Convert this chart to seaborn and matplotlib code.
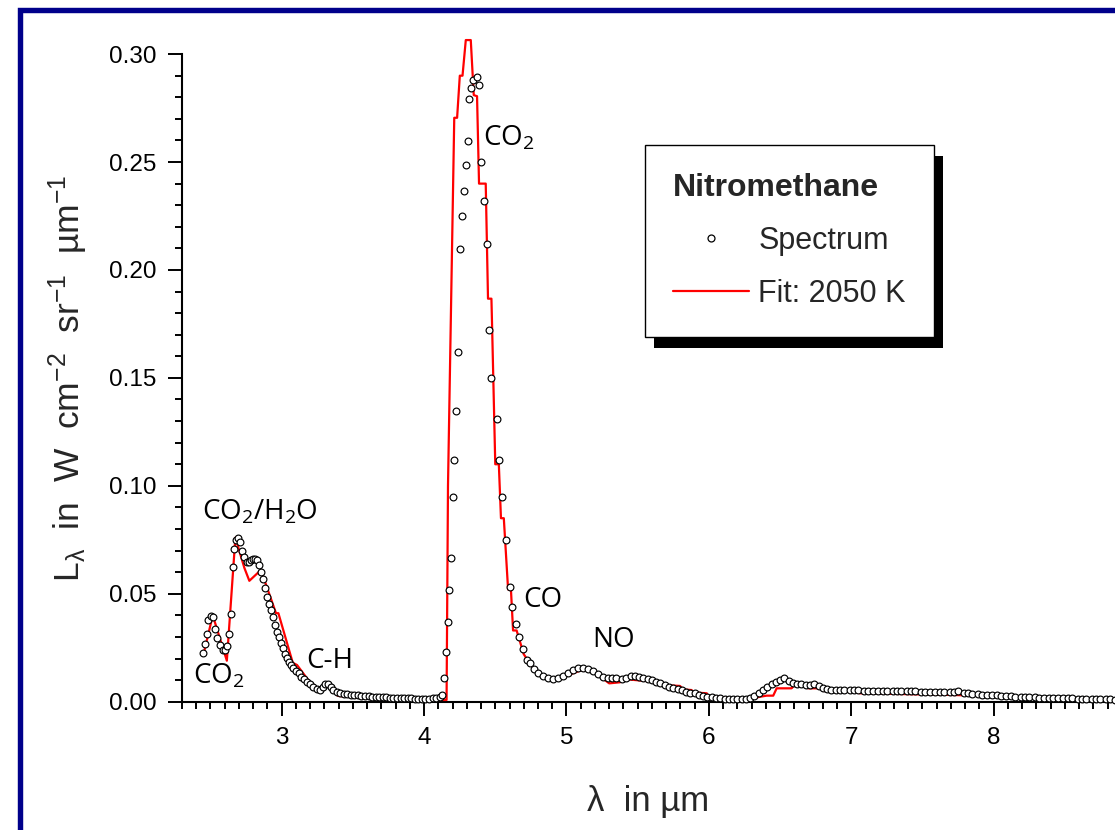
import numpy as np
import pandas as pd
import matplotlib
matplotlib.use("Agg")
import matplotlib.pyplot as plt
from matplotlib.lines import Line2D
from matplotlib.patches import Rectangle
from matplotlib.transforms import IdentityTransform
import seaborn as sns

# ---------------- data ----------------
spec_x = [
    2.445, 2.461, 2.473, 2.485, 2.501, 2.515, 2.532, 2.548, 2.567, 2.586,
    2.602, 2.618, 2.632, 2.644, 2.656, 2.667, 2.679, 2.695, 2.707, 2.721,
    2.735, 2.754, 2.768, 2.782, 2.796, 2.810, 2.824, 2.838, 2.853, 2.867,
    2.881, 2.895, 2.909, 2.923, 2.937, 2.951, 2.965, 2.979, 2.993, 3.007,
    3.021, 3.035, 3.049, 3.063, 3.081, 3.100, 3.119, 3.138, 3.157, 3.176,
    3.199, 3.222, 3.246, 3.269, 3.288, 3.306, 3.325, 3.344, 3.362, 3.386,
    3.41, 3.435, 3.46, 3.485, 3.51, 3.535, 3.56, 3.585, 3.61, 3.635,
    3.66, 3.685, 3.71, 3.735, 3.76, 3.785, 3.81, 3.835, 3.86, 3.885,
    3.91, 3.935, 3.96, 3.985, 4.01, 4.035, 4.06, 4.085, 4.11,
    4.128, 4.142, 4.153, 4.165, 4.178, 4.188, 4.200, 4.213, 4.224, 4.238,
    4.252, 4.266, 4.278, 4.292, 4.306, 4.317, 4.329, 4.341, 4.369, 4.383,
    4.397, 4.419, 4.442, 4.456, 4.470, 4.512, 4.526, 4.547, 4.575, 4.604,
    4.619, 4.643, 4.669, 4.692, 4.720, 4.744, 4.772, 4.802, 4.837, 4.872,
    4.907, 4.942, 4.978, 5.013, 5.048, 5.083, 5.118, 5.153, 5.188, 5.223,
    5.258, 5.29, 5.32, 5.35,
    5.39, 5.42, 5.45, 5.48, 5.51, 5.54, 5.57, 5.60, 5.63, 5.66,
    5.69, 5.72, 5.75, 5.78, 5.81, 5.84, 5.87, 5.90, 5.93, 5.96,
    5.99, 6.02, 6.05, 6.08, 6.11, 6.14, 6.17, 6.20, 6.23, 6.26,
    6.29, 6.32, 6.35, 6.38, 6.41, 6.44, 6.47, 6.50, 6.53, 6.56,
    6.59, 6.62, 6.65, 6.68, 6.71, 6.74, 6.77, 6.80, 6.83, 6.86,
    6.89, 6.92, 6.95, 6.99,
    7.02, 7.05, 7.09, 7.12, 7.15, 7.19, 7.22, 7.25, 7.29, 7.32,
    7.35, 7.39, 7.42, 7.45, 7.49, 7.52, 7.55, 7.59, 7.62, 7.65,
    7.69, 7.72, 7.75, 7.79, 7.82, 7.85, 7.89, 7.92, 7.95, 7.99,
    8.02, 8.05, 8.09, 8.12, 8.15, 8.19, 8.22, 8.25, 8.29, 8.32,
    8.35, 8.39, 8.42, 8.45, 8.49, 8.52, 8.55, 8.59, 8.62, 8.65,
    8.69, 8.72, 8.75, 8.79, 8.82, 8.85,
]
spec_y = [
    0.0225, 0.0268, 0.0313, 0.0378, 0.0398, 0.0394, 0.0338, 0.0294, 0.0263, 0.0238,
    0.0238, 0.0258, 0.0314, 0.0408, 0.0626, 0.0708, 0.0747, 0.0758, 0.0739, 0.0696,
    0.0670, 0.0649, 0.0648, 0.0658, 0.0662, 0.0663, 0.0658, 0.0634, 0.0603, 0.0568,
    0.0526, 0.0484, 0.0453, 0.0425, 0.0394, 0.0353, 0.0325, 0.0302, 0.0274, 0.0248,
    0.0221, 0.0201, 0.0186, 0.0170, 0.0155, 0.0144, 0.0132, 0.0116, 0.0104, 0.0093,
    0.0082, 0.0070, 0.0060, 0.0054, 0.0067, 0.0082, 0.0082, 0.0070, 0.0054, 0.0044,
    0.0040, 0.0037, 0.0035, 0.0033, 0.0031, 0.0030, 0.0028, 0.0027, 0.0025, 0.0024,
    0.0023, 0.0022, 0.0021, 0.0020, 0.0019, 0.0018, 0.0017, 0.0017, 0.0016, 0.0015,
    0.0015, 0.0014, 0.0014, 0.0014, 0.0014, 0.0014, 0.0015, 0.0016, 0.0020,
    0.0030, 0.0110, 0.0232, 0.0368, 0.0518, 0.0668, 0.0948, 0.1118, 0.1348, 0.1618,
    0.2098, 0.2248, 0.2368, 0.2488, 0.2598, 0.2790, 0.2845, 0.2880, 0.2893, 0.2855,
    0.2498, 0.2319, 0.2122, 0.1722, 0.1500, 0.1310, 0.1120, 0.0950, 0.0750, 0.0530,
    0.0440, 0.0360, 0.0300, 0.0245, 0.0195, 0.0178, 0.0152, 0.0132, 0.0117, 0.0109,
    0.0105, 0.0109, 0.0120, 0.0135, 0.0148, 0.0154, 0.0154, 0.0151, 0.0140, 0.0128,
    0.0116, 0.0112, 0.0110, 0.0112,
    0.0104, 0.0112, 0.0118, 0.0118, 0.0114, 0.0109, 0.0104, 0.0099, 0.0092, 0.0085,
    0.0077, 0.0069, 0.0062, 0.0057, 0.0052, 0.0047, 0.0042, 0.0038, 0.0033, 0.0028,
    0.0023, 0.0020, 0.0018, 0.0016, 0.0014, 0.0012, 0.0011, 0.0011, 0.0011, 0.0011,
    0.0016, 0.0025, 0.0040, 0.0055, 0.0070, 0.0082, 0.0092, 0.0102, 0.0112, 0.0098,
    0.0087, 0.0082, 0.0080, 0.0078, 0.0078, 0.0080, 0.0072, 0.0063, 0.0057, 0.0055,
    0.0054, 0.0054, 0.0054, 0.0054,
    0.0053, 0.0052, 0.0051, 0.0051, 0.0050, 0.0050, 0.0049, 0.0049, 0.0049, 0.0049,
    0.0048, 0.0048, 0.0049, 0.0048, 0.0047, 0.0047, 0.0046, 0.0047, 0.0047, 0.0046,
    0.0046, 0.0047, 0.0050, 0.0042, 0.0038, 0.0036, 0.0034, 0.0033, 0.0032, 0.0031,
    0.0029, 0.0027, 0.0026, 0.0025, 0.0024, 0.0023, 0.0022, 0.0021, 0.0020, 0.0019,
    0.0018, 0.0018, 0.0017, 0.0016, 0.0016, 0.0015, 0.0015, 0.0014, 0.0014, 0.0013,
    0.0013, 0.0012, 0.0012, 0.0011, 0.0011, 0.0010,
]

fit_x = [
    2.455, 2.516, 2.615, 2.675, 2.738, 2.773, 2.854, 2.960, 2.977, 3.078,
    3.108, 3.195, 3.254, 3.324, 3.395, 3.58, 4.0, 4.158, 4.168, 4.212,
    4.232, 4.251, 4.270, 4.293, 4.328, 4.349, 4.372, 4.386, 4.433, 4.449,
    4.473, 4.477, 4.500, 4.525, 4.540, 4.560, 4.590, 4.610, 4.625, 4.650,
    4.700, 4.750, 4.800, 4.900, 5.000, 5.100, 5.200, 5.250, 5.300, 5.376,
    5.423, 5.470, 5.610, 5.680, 5.797, 5.821, 5.879, 5.891, 5.985, 5.996,
    6.078, 6.172, 6.312, 6.359, 6.406, 6.452, 6.476, 6.581, 6.605, 6.675,
    6.698, 6.780, 6.804, 7.015, 7.062, 7.717, 8.185, 8.852,
]
fit_y = [
    0.0230, 0.0400, 0.0190, 0.0760, 0.0620, 0.0560, 0.0610, 0.0410, 0.0410, 0.0180,
    0.0170, 0.0093, 0.0062, 0.0082, 0.0027, 0.0015, 0.0008, 0.0008, 0.1000, 0.2705,
    0.2705, 0.2900, 0.2900, 0.3065, 0.3065, 0.2810, 0.2805, 0.2400, 0.2400, 0.1867,
    0.1867, 0.1760, 0.1100, 0.1100, 0.0850, 0.0850, 0.0520, 0.0520, 0.0330, 0.0330,
    0.0220, 0.0170, 0.0130, 0.0110, 0.0120, 0.0145, 0.0140, 0.0110, 0.0085, 0.0090,
    0.0104, 0.0101, 0.0093, 0.0077, 0.0073, 0.0057, 0.0054, 0.0043, 0.0039, 0.0026,
    0.0023, 0.0016, 0.0016, 0.0023, 0.0028, 0.0028, 0.0062, 0.0062, 0.0080, 0.0080,
    0.0062, 0.0062, 0.0050, 0.0046, 0.0039, 0.0031, 0.0023, 0.0008,
]

x_ticks = [3, 4, 5, 6, 7, 8]
y_ticks = [0.00, 0.05, 0.10, 0.15, 0.20, 0.25, 0.30]
y_ticklabels = ["0.00", "0.05", "0.10", "0.15", "0.20", "0.25", "0.30"]

spec_df = pd.DataFrame({"wavelength": spec_x, "radiance": spec_y})
fit_df = pd.DataFrame({"wavelength": fit_x, "radiance": fit_y})

# ---------------- style ----------------
sns.set_style("ticks")
plt.rcParams["font.family"] = ["Liberation Sans", "DejaVu Sans"]
plt.rcParams["mathtext.default"] = "regular"

W, H = 1115, 830
fig = plt.figure(figsize=(W / 100, H / 100), dpi=100)
fig.patch.set_facecolor("white")

x0, x1 = 181.7, 1115.0
y_bot, y_top = 701.7, 54.1
ax = fig.add_axes([x0 / W, 1 - y_bot / H, (x1 - x0) / W, (y_bot - y_top) / H])
ax.set_facecolor("white")

sns.lineplot(data=fit_df, x="wavelength", y="radiance", ax=ax, color="red",
             lw=1.6, sort=False, estimator=None, clip_on=False, zorder=3)
sns.scatterplot(data=spec_df, x="wavelength", y="radiance", ax=ax, s=24,
                marker="o", facecolor="white", edgecolor="black",
                linewidth=0.85, clip_on=False, zorder=4)

ax.set_xlim(2.298, 8.852)
ax.set_ylim(0, 0.30)
ax.set_xticks(x_ticks)
ax.set_xticklabels([str(t) for t in x_ticks])
ax.set_yticks(y_ticks)
ax.set_yticklabels(y_ticklabels)
ax.xaxis.set_minor_locator(matplotlib.ticker.MultipleLocator(0.1))
ax.yaxis.set_minor_locator(matplotlib.ticker.MultipleLocator(0.01))
ax.tick_params(which="major", direction="out", length=10, width=1.4,
               labelsize=17.5, pad=8, color="black", labelcolor="black")
ax.tick_params(which="minor", direction="out", length=5, width=1.4, color="black")
for s in ["top", "right"]:
    ax.spines[s].set_visible(False)
for s in ["left", "bottom"]:
    ax.spines[s].set_linewidth(1.5)
    ax.spines[s].set_color("black")

ax.set_xlabel("λ  in µm", fontsize=25, labelpad=26)
ax.set_ylabel("L$_{λ}$  in  W  cm$^{-2}$  sr$^{-1}$  µm$^{-1}$", fontsize=25.5, labelpad=14)

# annotations
ann = dict(family=["Open Sans", "DejaVu Sans"], fontsize=20, color="black",
           ha="left", va="baseline")
ax.text(4.414, 0.2575, "CO$_2$", **ann)
ax.text(2.438, 0.0845, "CO$_2$/H$_2$O", **ann)
ax.text(2.379, 0.0082, "CO$_2$", **ann)
ax.text(3.176, 0.0155, "C-H", **ann)
ax.text(4.70, 0.044, "CO", **ann)
ax.text(5.184, 0.0252, "NO", **ann)

# legend
handles = [
    Line2D([], [], ls="none", marker="o", ms=5, mfc="white", mec="black", mew=0.9),
    Line2D([], [], color="red", lw=1.6),
]
leg = ax.legend(handles, ["Spectrum", "Fit: 2050 K"], title="Nitromethane",
                loc="upper left", bbox_to_anchor=(644.7 / W, 1 - 144.7 / H),
                bbox_transform=fig.transFigure, borderaxespad=0,
                fontsize=22, title_fontproperties={"weight": "bold", "size": 23},
                alignment="left", handlelength=2.5, handletextpad=0.3,
                labelspacing=0.75, borderpad=0.92, fancybox=False,
                framealpha=1, edgecolor="black", frameon=True)
leg.get_frame().set_linewidth(1.0)
leg.set_zorder(10)

fig.canvas.draw()
bb = leg.get_window_extent()
shadow = Rectangle((bb.x0 + 9, bb.y0 - 11), bb.width, bb.height,
                   transform=IdentityTransform(), facecolor="black",
                   edgecolor="none", clip_on=False, zorder=9)
ax.add_patch(shadow)

# outer navy frame (left and top visible)
frame = Rectangle((20 / W, -0.2), 2.0, 1 - 10 / H + 0.2, transform=fig.transFigure,
                  fill=False, edgecolor="#00008B", linewidth=3.9, clip_on=False)
fig.patches.append(frame)

fig.savefig("out.png", dpi=100, facecolor="white")
